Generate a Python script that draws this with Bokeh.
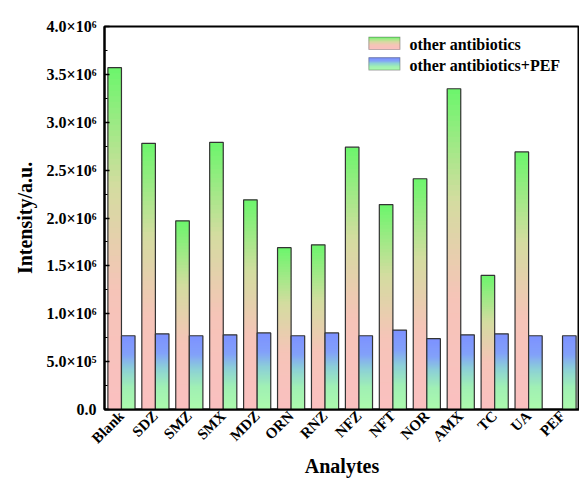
import numpy as np
from bokeh.plotting import figure
from bokeh.models import FixedTicker, BoxAnnotation, Label
from bokeh.embed import file_html
from bokeh.resources import INLINE

categories = ["Blank", "SDZ", "SMZ", "SMX", "MDZ", "ORN", "RNZ", "NFZ", "NFT", "NOR", "AMX", "TC", "UA", "PEF"]
other_antibiotics = [3.57e6, 2.78e6, 1.97e6, 2.79e6, 2.19e6, 1.69e6, 1.72e6, 2.74e6, 2.14e6, 2.41e6, 3.35e6, 1.40e6, 2.69e6, 0.0]
other_plus_pef = [0.77e6, 0.79e6, 0.77e6, 0.78e6, 0.80e6, 0.77e6, 0.80e6, 0.77e6, 0.83e6, 0.74e6, 0.78e6, 0.79e6, 0.77e6, 0.77e6]
y_ticks = [0, 0.5e6, 1.0e6, 1.5e6, 2.0e6, 2.5e6, 3.0e6, 3.5e6, 4.0e6]
y_tick_labels = ["0.0", "5.0×10⁵", "1.0×10⁶", "1.5×10⁶", "2.0×10⁶", "2.5×10⁶", "3.0×10⁶", "3.5×10⁶", "4.0×10⁶"]
series_names = ["other antibiotics", "other antibiotics+PEF"]

FONT = "Liberation Serif"

green_stops = [(0.0, (250, 192, 192)), (0.35, (246, 196, 184)), (0.65, (212, 220, 160)), (1.0, (108, 246, 108))]
blue_stops = [(0.0, (172, 250, 172)), (0.3, (160, 240, 180)), (0.55, (140, 208, 215)), (0.75, (130, 160, 250)), (1.0, (125, 145, 255))]


def grad(stops, f):
    for (f0, c0), (f1, c1) in zip(stops[:-1], stops[1:]):
        if f <= f1:
            t = (f - f0) / (f1 - f0) if f1 > f0 else 0
            c = [int(round(a + (b - a) * t)) for a, b in zip(c0, c1)]
            return "#%02x%02x%02x" % tuple(c)
    return "#%02x%02x%02x" % stops[-1][1]


p = figure(width=579, height=483, output_backend="svg", toolbar_location=None,
           x_range=(-0.5, 13.5), y_range=(0, 4.0e6),
           min_border_left=104, min_border_right=0, min_border_top=26, min_border_bottom=74)

BW = 0.4
N = 60
for series, stops, off in [(other_antibiotics, green_stops, -BW), (other_plus_pef, blue_stops, 0.0)]:
    L, R, B, T, C = [], [], [], [], []
    for i, v in enumerate(series):
        if v <= 0:
            continue
        for k in range(N):
            L.append(i + off)
            R.append(i + off + BW)
            B.append(v * k / N)
            T.append(v * min(k + 1.8, N) / N)
            C.append(grad(stops, (k + 0.5) / N))
    p.quad(left=L, right=R, bottom=B, top=T, fill_color=C, line_color=None)
    idx = [i for i, v in enumerate(series) if v > 0]
    p.quad(left=[i + off for i in idx], right=[i + off + BW for i in idx],
           bottom=[0] * len(idx), top=[series[i] for i in idx],
           fill_color=None, line_color="#333333", line_width=1.2)

# legend (manual, gradient swatches)
leg_x0, leg_x1 = 7.29, 8.21
for j, (name, stops) in enumerate(zip(series_names, [green_stops, blue_stops])):
    ytop = 3.89e6 - j * 0.215e6
    ybot = ytop - 0.13e6
    M = 12
    for k in range(M):
        p.add_layout(BoxAnnotation(left=leg_x0, right=leg_x1,
                                   bottom=ybot + (ytop - ybot) * k / M,
                                   top=ybot + (ytop - ybot) * min(k + 1.8, M) / M,
                                   fill_color=grad(stops, (k + 0.5) / M), fill_alpha=1.0,
                                   line_color=None, level="overlay"))
    p.add_layout(BoxAnnotation(left=leg_x0, right=leg_x1, bottom=ybot, top=ytop,
                               fill_alpha=0, line_color="#333333", line_width=1.2, level="overlay"))
    p.add_layout(Label(x=leg_x1 + 0.28, y=(ytop + ybot) / 2 - 0.015e6, text=name,
                       text_font=FONT, text_font_style="bold", text_font_size="16px",
                       text_baseline="middle", text_color="black"))

p.grid.visible = False
p.outline_line_color = "black"
p.outline_line_width = 2

xa = p.xaxis[0]
xa.ticker = FixedTicker(ticks=list(range(len(categories))))
xa.major_label_overrides = {i: c for i, c in enumerate(categories)}
xa.major_label_orientation = np.pi / 4
xa.major_tick_line_color = None
xa.minor_tick_line_color = None
xa.major_tick_in = 0
xa.major_tick_out = 0
xa.axis_line_width = 2
xa.axis_line_color = "black"
xa.major_label_text_font = FONT
xa.major_label_text_font_style = "bold"
xa.major_label_text_font_size = "15px"
xa.major_label_text_color = "black"
xa.major_label_standoff = 4
xa.axis_label = "Analytes"
xa.axis_label_text_font = FONT
xa.axis_label_text_font_style = "bold"
xa.axis_label_text_font_size = "20px"
xa.axis_label_text_color = "black"
xa.axis_label_standoff = 0

ya = p.yaxis[0]
ya.ticker = FixedTicker(ticks=y_ticks, minor_ticks=[t + 0.25e6 for t in y_ticks[:-1]])
ya.major_label_overrides = {t: s for t, s in zip(y_ticks, y_tick_labels)}
ya.major_tick_in = 5
ya.major_tick_out = 0
ya.minor_tick_in = 3
ya.minor_tick_out = 0
ya.major_tick_line_width = 1.5
ya.axis_line_width = 2
ya.axis_line_color = "black"
ya.major_label_text_font = FONT
ya.major_label_text_font_style = "bold"
ya.major_label_text_font_size = "16px"
ya.major_label_text_color = "black"
ya.major_label_standoff = 8
ya.axis_label = "Intensity/a.u."
ya.axis_label_text_font = FONT
ya.axis_label_text_font_style = "bold"
ya.axis_label_text_font_size = "20px"
ya.axis_label_text_color = "black"
ya.axis_label_standoff = 8

open("out.html", "w").write(file_html(p, INLINE))
